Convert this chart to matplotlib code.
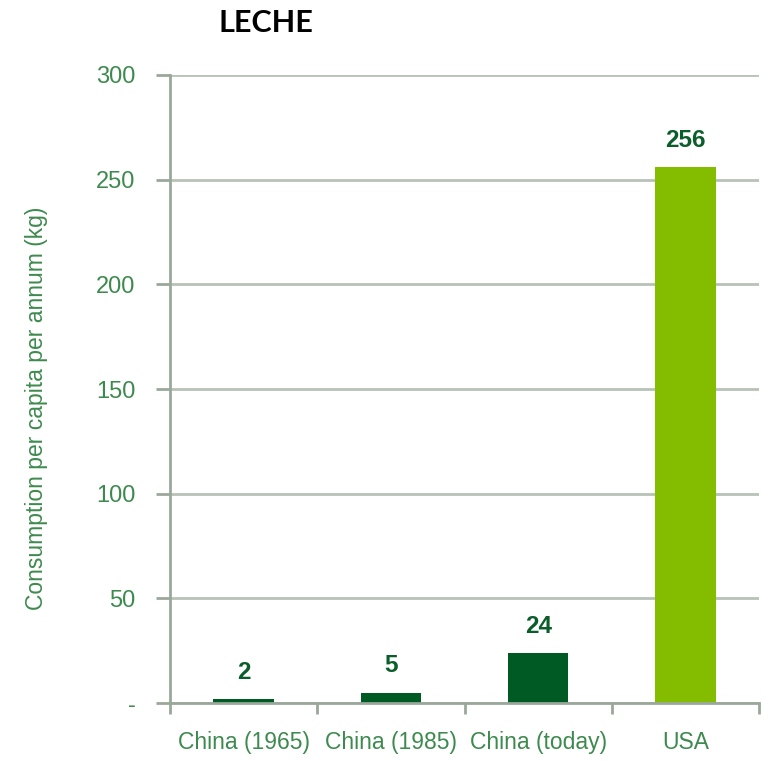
import matplotlib
matplotlib.use("Agg")
import matplotlib.pyplot as plt
import numpy as np

categories = ["China (1965)", "China (1985)", "China (today)", "USA"]
values = [2, 5, 24, 256]
bar_colors = ["#005a24", "#005a24", "#005a24", "#84bc00"]
yticks = [0, 50, 100, 150, 200, 250, 300]
ytick_labels = ["-", "50", "100", "150", "200", "250", "300"]

narrow = ["Liberation Sans", "DejaVu Sans"]
label_green = "#3d8a4e"
axis_gray = "#9aa89a"
grid_gray = "#b8c2b8"

fig = plt.figure(figsize=(7.63, 7.62), dpi=100)
ax = fig.add_axes([0.2228, 0.0774, 0.7720, 0.8242])

x = np.arange(len(categories))
ax.bar(x, values, width=0.41, color=bar_colors, zorder=3)

ax.set_xlim(-0.5, len(categories) - 0.5)
ax.set_ylim(0, 300)

ax.set_yticks(yticks)
ax.set_yticklabels(ytick_labels, fontfamily=narrow, fontsize=17, color=label_green)
ax.yaxis.grid(True, color=grid_gray, linewidth=2, zorder=0)
ax.tick_params(axis="y", length=10, width=2, color=axis_gray, pad=15)

ax.set_xticks(x)
ax.set_xticklabels(categories, fontfamily=narrow, fontsize=16.5, color=label_green)
ax.set_xticks(np.arange(len(categories) + 1) - 0.5, minor=True)
ax.tick_params(axis="x", which="major", length=0, pad=20)
ax.tick_params(axis="x", which="minor", length=8, width=2, color=axis_gray)

for s in ["top", "right"]:
    ax.spines[s].set_visible(False)
for s in ["left", "bottom"]:
    ax.spines[s].set_color(axis_gray)
    ax.spines[s].set_linewidth(2)
    ax.spines[s].set_zorder(4)

for xi, v in zip(x, values):
    ax.annotate(str(v), (xi, v), xytext=(0, 11), textcoords="offset points",
                ha="center", va="bottom", fontfamily=narrow, fontsize=17.5,
                fontweight="bold", color="#0b5e2a")

ax.set_ylabel("Consumption per capita per annum (kg)", fontfamily=narrow,
              fontsize=16.5, color=label_green, va="center")
ax.yaxis.set_label_coords(-0.226, 0.47)

fig.text(0.348, 0.97, "LECHE", ha="center", va="center", fontfamily=["Lato", "DejaVu Sans"],
         fontsize=22, fontweight="bold", color="black")

fig.savefig("out.png", dpi=100)
